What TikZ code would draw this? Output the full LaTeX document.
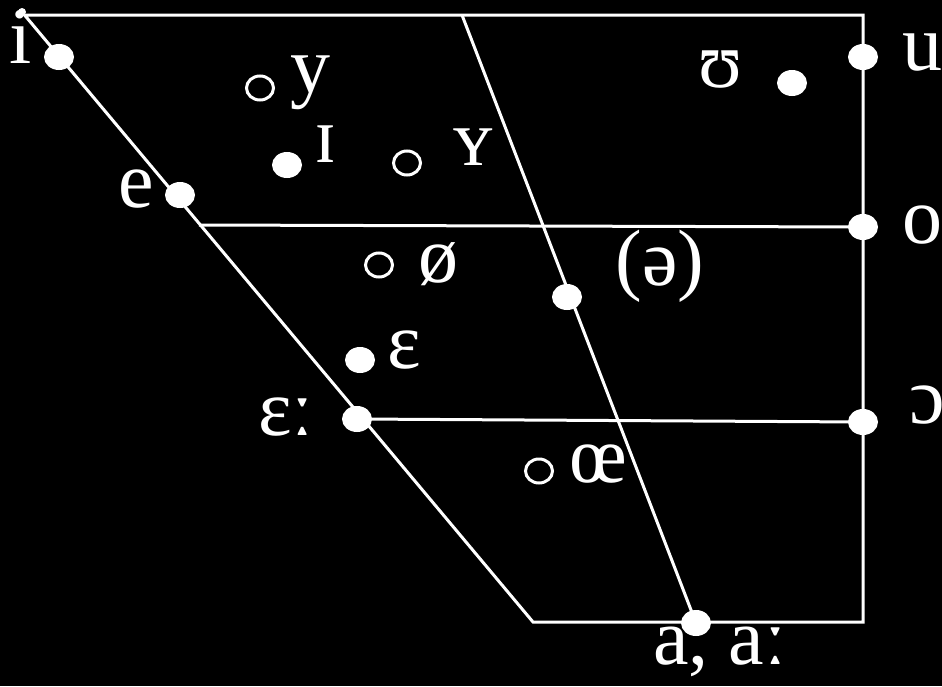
\documentclass[tikz,border=0pt]{standalone}
\usepackage{fontspec}
\setmainfont{Liberation Serif}
\usetikzlibrary{shapes.geometric}
\begin{document}
\begin{tikzpicture}[x=0.5pt,y=-0.5pt,
  ln/.style={draw=white, line width=1.5pt},
  fdot/.style={ellipse, fill=white, inner sep=0pt, minimum width=15pt, minimum height=13pt},
  odot/.style={ellipse, draw=white, line width=1.5pt, inner sep=0pt, minimum width=13.5pt, minimum height=12pt},
  lab/.style={text=white, anchor=base, inner sep=0pt, font=\fontsize{40}{44}\selectfont}]
\fill[black] (0,0) rectangle (942,686);
\useasboundingbox (0,0) rectangle (942,686);
% frame points
\coordinate (TL) at (22,12);
\coordinate (TLh) at (26,15);
\coordinate (TR) at (863,15);
\coordinate (BR) at (863,622);
\coordinate (BL) at (533,622);
\coordinate (TM) at (462,15);
\coordinate (ML) at (199,225);
% vowel points
\coordinate (pi) at (59,57);
\coordinate (pe) at (180,195);
\coordinate (pI) at (287,165);
\coordinate (pE) at (360,360);
\coordinate (pEE) at (357,419);
\coordinate (pschwa) at (567,297);
\coordinate (pu) at (863,57);
\coordinate (pU) at (792,83);
\coordinate (po) at (863,227);
\coordinate (pO) at (863,422);
\coordinate (pa) at (696,623);
\coordinate (py) at (260,88);
\coordinate (pY) at (407,163);
\coordinate (poe) at (379,265);
\coordinate (pOE) at (539,471);
% lines
\draw[ln] (TLh) -- (TR) -- (BR) -- (BL) -- (TL);
\draw[ln] (TM) -- (pa);
\draw[ln] (ML) -- (po);
\draw[ln] (pEE) -- (pO);
% corner dot
\node[circle, fill=white, inner sep=0pt, minimum size=4pt] (corner) at (TL) {};
% filled dots
\foreach \p in {pi,pe,pI,pE,pEE,pschwa,pu,pU,po,pO,pa}
  \node[fdot] (d\p) at (\p) {};
% open dots
\foreach \p in {py,pY,poe,pOE}
  \node[odot] (d\p) at (\p) {};
% labels
\node[lab] (li) at (21,63) {i};
\node[lab] (ly) at (310,92) {y};
\node[lab] (lI) at (326,162) {ɪ};
\node[lab] (lY) at (473,165) {ʏ};
\node[lab] (lU) at (720,87) {ʊ};
\node[lab] (lu) at (922,70) {u};
\node[lab] (le) at (136,207) {e};
\node[lab] (lo) at (922,243) {o};
\node[lab] (loe) at (438,282) {ø};
\node[lab] (lschwa) at (660,285) {(ə)};
\node[lab] (lE) at (404,368) {ɛ};
\node[lab] (lEE) at (286,435) {ɛː};
\node[lab] (lO) at (927,423) {ɔ};
\node[lab] (lOE) at (598,482) {œ};
\node[lab] (la) at (720,664) {a, aː};
\end{tikzpicture}
\end{document}
